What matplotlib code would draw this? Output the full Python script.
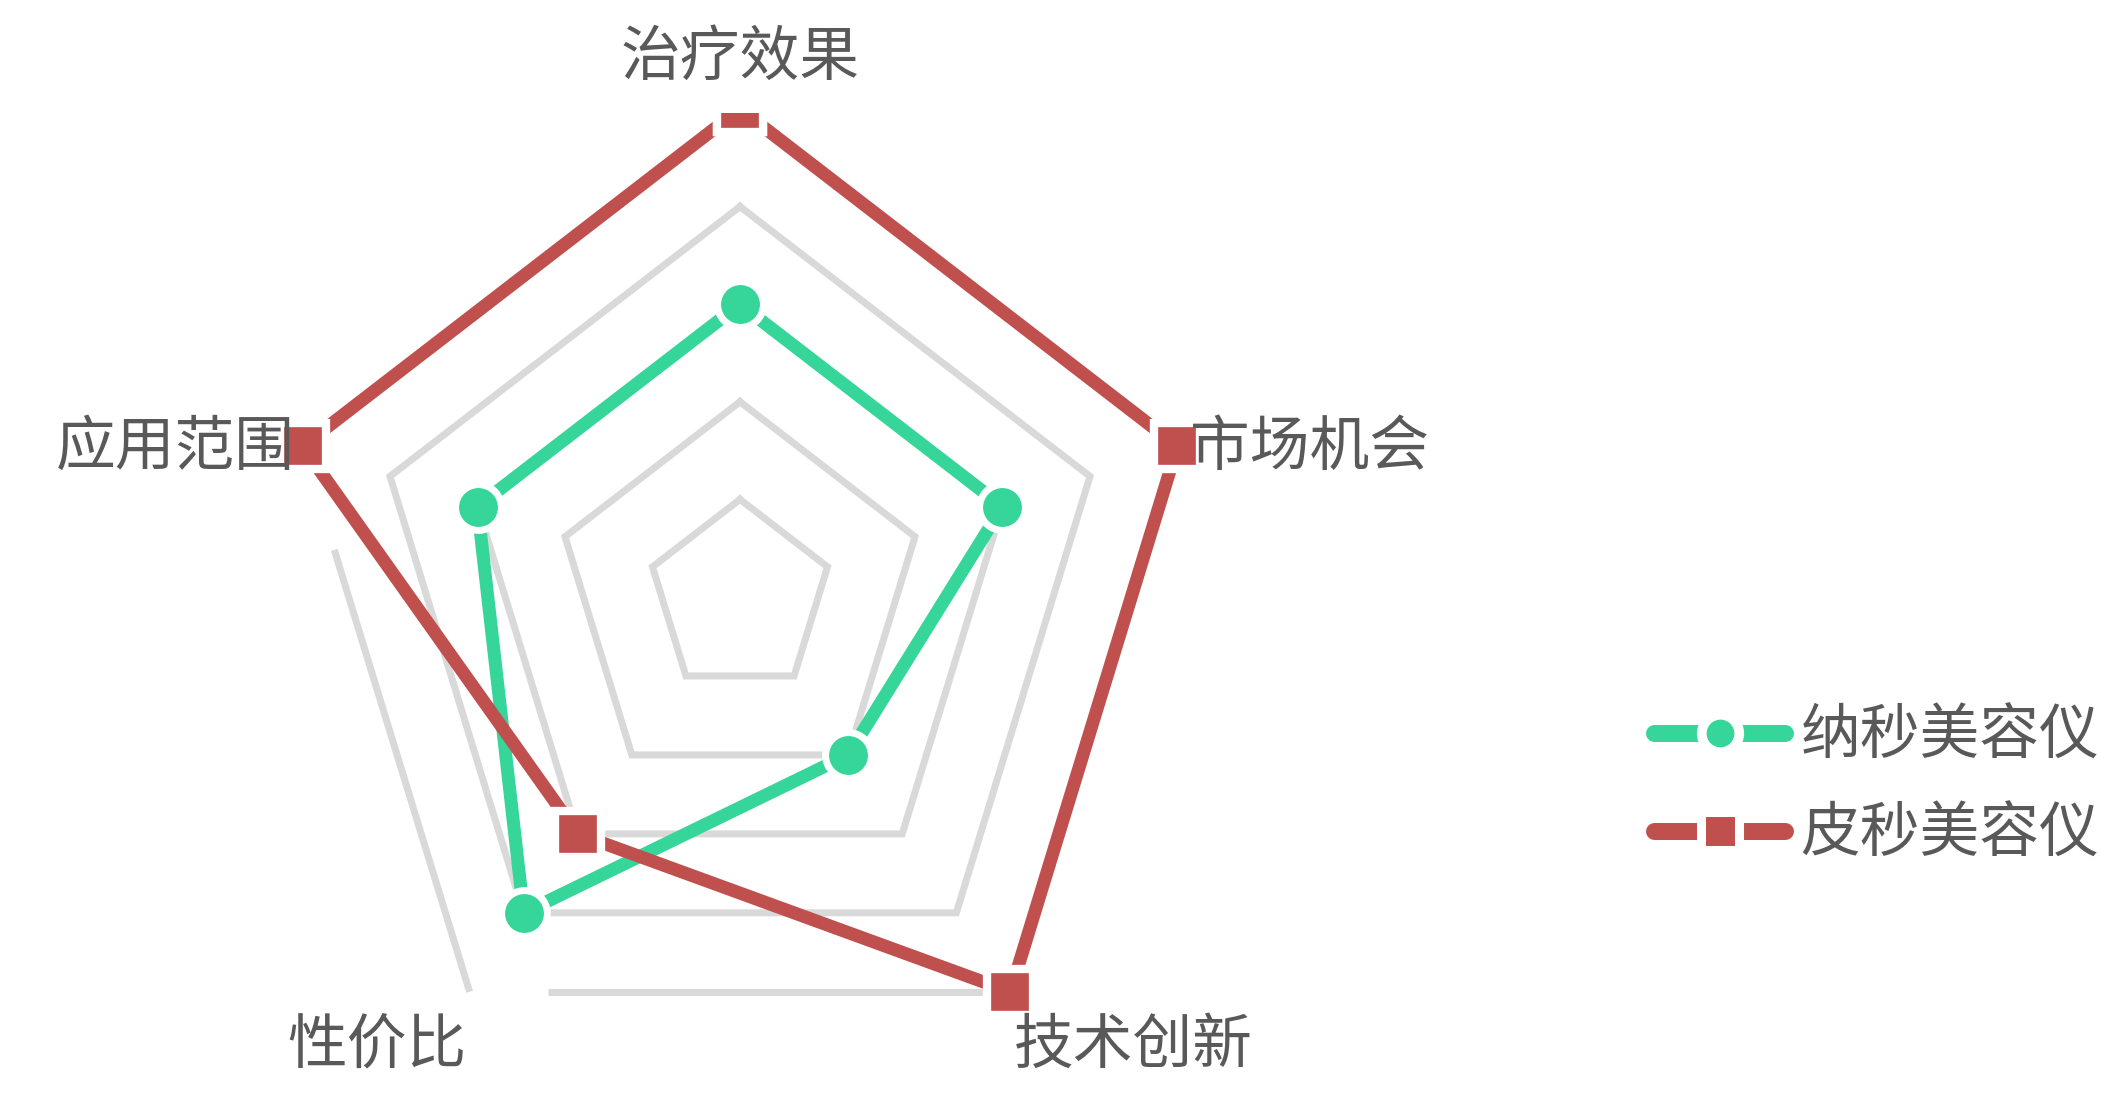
import numpy as np
import matplotlib.pyplot as plt
from matplotlib.lines import Line2D
from matplotlib.patches import Rectangle

plt.rcParams['font.family'] = ['Noto Sans CJK SC', 'DejaVu Sans']

# ---------------------------------------------------------------
# data
# ---------------------------------------------------------------
categories = ["治疗效果", "市场机会", "技术创新", "性价比", "应用范围"]
nano = [3, 3, 2, 4, 3]      # 纳秒美容仪
pico = [5, 5, 5, 3, 5]      # 皮秒美容仪
series_names = ["纳秒美容仪", "皮秒美容仪"]
levels = [1, 2, 3, 4]       # inner grid rings
outer_level = 5             # outer ring (only partly visible)

GREEN = "#36D69A"
RED = "#C0504D"
GRID = "#D9D9D9"
TEXT = "#595959"

# angles: first axis straight up, then clockwise
n = len(categories)
theta = np.pi / 2 - np.arange(n) * 2 * np.pi / n


def to_xy(vals):
    vals = np.asarray(vals, dtype=float)
    return vals * np.cos(theta), vals * np.sin(theta)


def closed(a):
    return np.append(a, a[0])


W, H = 2112, 1117
fig = plt.figure(figsize=(W / 100, H / 100), dpi=100)
ax = fig.add_axes([0, 0, 1, 1])
# pixel layout: centre at (740, 597), 92 px per unit across, 97.6 px per unit down
cx, cy, sx, sy = 740, 597, 92.0, 97.6
ax.set_xlim(-cx / sx, (W - cx) / sx)
ax.set_ylim((cy - H) / sy, cy / sy)
ax.axis("off")

px = 100 / 72  # pixels per point

# grid rings
for lv in levels:
    gx, gy = to_xy([lv] * n)
    ax.plot(closed(gx), closed(gy), color=GRID, lw=7 / px, zorder=1,
            solid_joinstyle="miter")

# outer ring: only the lower-left and bottom edges show
ox, oy = to_xy([outer_level] * n)
for i0, i1, t0 in [(4, 3, 0.19), (3, 2, 0.145)]:
    xs = [ox[i0] + t0 * (ox[i1] - ox[i0]), ox[i1]]
    ys = [oy[i0] + t0 * (oy[i1] - oy[i0]), oy[i1]]
    ax.plot(xs, ys, color=GRID, lw=7 / px, zorder=1, solid_capstyle="butt")

# series
nx, ny = to_xy(nano)
ax.plot(closed(nx), closed(ny), color=GREEN, lw=13 / px, zorder=2,
        marker="o", ms=33, mfc=GREEN, mec="white", mew=5)
rx, ry = to_xy(pico)
red_line, = ax.plot(closed(rx), closed(ry), color=RED, lw=13 / px, zorder=3,
                    marker="s", ms=33, mfc=RED, mec="white", mew=6)
# plot area ends a little above the outer ring, cutting the top marker
clip = Rectangle((-20, -20), 40, 20 + (cy - 113) / sy, transform=ax.transData)
red_line.set_clip_path(clip)

# category labels
lx, ly = to_xy([outer_level] * n)
label_fmt = [
    dict(off=(0, 0), ha="center", va="center"),
    dict(off=(13 / px, -2 / px), ha="left", va="center"),
    dict(off=(3 / px, -55 / px), ha="left", va="center"),
    dict(off=(-3 / px, -55 / px), ha="right", va="center"),
    dict(off=(-8 / px, -2 / px), ha="right", va="center"),
]
for i, (cat, fmt) in enumerate(zip(categories, label_fmt)):
    x0, y0 = lx[i], ly[i]
    if i == 0:
        y0 = (cy - 58) / sy
    ax.annotate(cat, (x0, y0), xytext=fmt["off"], textcoords="offset points",
                ha=fmt["ha"], va=fmt["va"], fontsize=43, color=TEXT)

# legend
handles = [
    Line2D([], [], color=GREEN, lw=17 / px, solid_capstyle="round",
           marker="o", ms=27, mfc=GREEN, mec="white", mew=7),
    Line2D([], [], color=RED, lw=17 / px, solid_capstyle="round",
           marker="s", ms=28, mfc=RED, mec="white", mew=6.5),
]
leg = ax.legend(handles, series_names, loc="center left",
                bbox_to_anchor=(1654 / W, 1 - 786 / H),
                bbox_transform=fig.transFigure, frameon=False,
                fontsize=43, handlelength=2.2, handletextpad=0.25,
                labelspacing=0.62, borderpad=0, borderaxespad=0)
for t in leg.get_texts():
    t.set_color(TEXT)

fig.savefig("out.png", dpi=100, facecolor="white")
